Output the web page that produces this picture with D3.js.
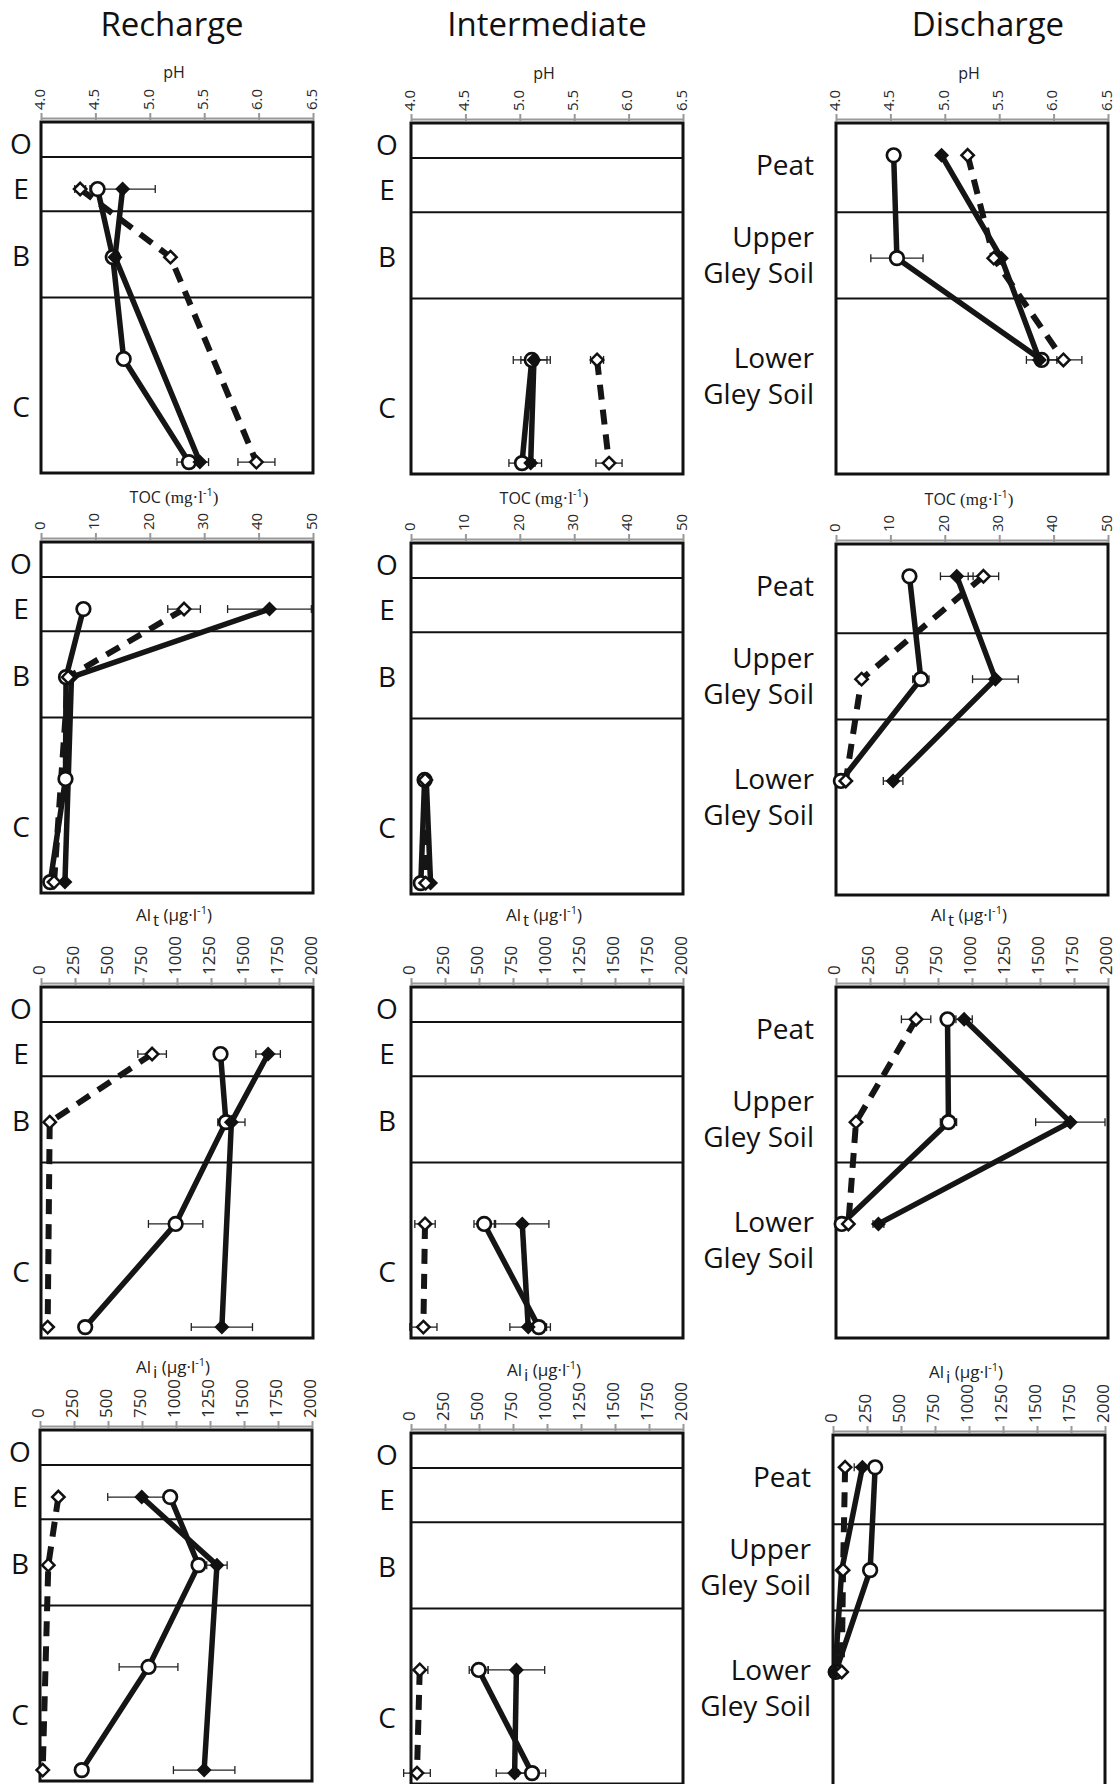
<!DOCTYPE html>
<html><head><meta charset="utf-8">
<script src="https://cdn.jsdelivr.net/npm/d3@7/dist/d3.min.js"></script>
<style>body{margin:0;background:#fff;} svg{display:block;font-family:"Open Sans",sans-serif;}</style>
</head><body><svg id="chart" width="1117" height="1784"></svg>
<script>
// ---------- categories ----------
const columns = ["Recharge", "Intermediate", "Discharge"];
const mineralHorizons = ["O", "E", "B", "C"];
const peatHorizons = [["Peat"], ["Upper", "Gley Soil"], ["Lower", "Gley Soil"]];
// sampling depth (percent of profile) for E, B, upper C, lower C
const mineralSampleDepth = [19.1, 38.5, 67.5, 96.9];
const mineralBoundaries = [10, 25.4, 50];
const mineralLabelDepth = [6.3, 19.1, 38.2, 81.2];
// sampling depth for Peat, Upper gley, Lower gley
const peatSampleDepth = [9.2, 38.5, 67.5];
const peatBoundaries = [25.4, 50];
const peatLabelDepth = [12, 37.7, 72.2];

// ---------- tick labels ----------
const pHTicks = [4.0, 4.5, 5.0, 5.5, 6.0, 6.5];
const tocTicks = [0, 10, 20, 30, 40, 50];
const alTicks = [0, 250, 500, 750, 1000, 1250, 1500, 1750, 2000];

// ---------- pH ----------
const pHRechCircle = [4.52, 4.66, 4.76, 5.36];
const pHRechCircleErr = [0, 0, 0, 0.11];
const pHRechFilled = [4.75, 4.68, null, 5.46];
const pHRechFilledErr = [0.30, 0, 0, 0.08];
const pHRechOpen = [4.36, 5.19, null, 5.98];
const pHRechOpenErr = [0.05, 0, 0, 0.17];

const pHInterCircle = [null, null, 5.11, 5.02];
const pHInterCircleErr = [0, 0, 0.17, 0.12];
const pHInterFilled = [null, null, 5.13, 5.10];
const pHInterFilledErr = [0, 0, 0.12, 0.10];
const pHInterOpen = [null, null, 5.71, 5.82];
const pHInterOpenErr = [0, 0, 0.06, 0.12];

const pHDisCircle = [4.53, 4.56, 5.89];
const pHDisCircleErr = [0, 0.24, 0.14];
const pHDisFilled = [4.97, 5.52, 5.87];
const pHDisFilledErr = [0, 0, 0];
const pHDisOpen = [5.21, 5.45, 6.09];
const pHDisOpenErr = [0, 0, 0.17];

// ---------- TOC (mg/l) ----------
const tocRechCircle = [7.8, 4.6, 4.5, 1.7];
const tocRechCircleErr = [0, 0, 0, 0];
const tocRechFilled = [42.0, 5.6, null, 4.4];
const tocRechFilledErr = [7.7, 0, 0, 0];
const tocRechOpen = [26.3, 5.0, null, 2.4];
const tocRechOpenErr = [3.0, 0, 0, 0];

const tocInterCircle = [null, null, 2.5, 1.8];
const tocInterCircleErr = [0, 0, 0, 0];
const tocInterFilled = [null, null, 2.8, 3.6];
const tocInterFilledErr = [0, 0, 0, 0];
const tocInterOpen = [null, null, 2.6, 2.7];
const tocInterOpenErr = [0, 0, 0, 0];

const tocDisCircle = [13.5, 15.6, 0.9];
const tocDisCircleErr = [0, 1.5, 0];
const tocDisFilled = [22.2, 29.3, 10.5];
const tocDisFilledErr = [3.0, 4.2, 1.8];
const tocDisOpen = [27.1, 4.7, 1.8];
const tocDisOpenErr = [2.8, 0, 0];

// ---------- Al total (ug/l) ----------
const altRechCircle = [1320, 1360, 990, 325];
const altRechCircleErr = [0, 0, 200, 0];
const altRechFilled = [1670, 1400, null, 1330];
const altRechFilledErr = [90, 100, 0, 225];
const altRechOpen = [817, 64, null, 49];
const altRechOpenErr = [105, 0, 0, 0];

const altInterCircle = [null, null, 538, 940];
const altInterCircleErr = [0, 0, 75, 85];
const altInterFilled = [null, null, 818, 862];
const altInterFilledErr = [0, 0, 196, 135];
const altInterOpen = [null, null, 103, 91];
const altInterOpenErr = [0, 0, 75, 100];

const altDisCircle = [820, 827, 42];
const altDisCircleErr = [0, 60, 0];
const altDisFilled = [942, 1723, 312];
const altDisFilledErr = [60, 255, 40];
const altDisOpen = [589, 147, 91];
const altDisOpenErr = [108, 0, 0];

// ---------- Al inorganic (ug/l) ----------
const aliRechCircle = [957, 1166, 798, 307];
const aliRechCircleErr = [0, 0, 216, 0];
const aliRechFilled = [748, 1301, null, 1207];
const aliRechFilledErr = [250, 75, 0, 226];
const aliRechOpen = [135, 61, null, 20];
const aliRechOpenErr = [0, 0, 0, 0];

const aliInterCircle = [null, null, 498, 890];
const aliInterCircleErr = [0, 0, 70, 100];
const aliInterFilled = [null, null, 775, 762];
const aliInterFilledErr = [0, 0, 208, 135];
const aliInterOpen = [null, null, 64, 44];
const aliInterOpenErr = [0, 0, 60, 98];

const aliDisCircle = [310, 273, 20];
const aliDisCircleErr = [0, 0, 0];
const aliDisFilled = [216, 64, 15];
const aliDisFilledErr = [60, 0, 0];
const aliDisOpen = [89, 74, 64];
const aliDisOpenErr = [0, 0, 0];

// ---------- layout ----------
const boxW = 272, boxH = 351;
const rowTops = [[122, 123, 123], [542, 543, 544], [987, 987, 987], [1430, 1433, 1435]];
const rowLefts = [[41, 411, 836], [41, 411, 836], [41, 411, 836], [40, 411, 833]];
const titleX = [172, 547, 988];

const variables = [
  {key: "pH", domain: [4, 6.5], ticks: pHTicks, fmt: d3.format(".1f"), tickFont: 15, titleDy: -44,
   sets: [[pHRechCircle, pHRechCircleErr, pHRechFilled, pHRechFilledErr, pHRechOpen, pHRechOpenErr],
          [pHInterCircle, pHInterCircleErr, pHInterFilled, pHInterFilledErr, pHInterOpen, pHInterOpenErr],
          [pHDisCircle, pHDisCircleErr, pHDisFilled, pHDisFilledErr, pHDisOpen, pHDisOpenErr]]},
  {key: "TOC", domain: [0, 50], ticks: tocTicks, fmt: d3.format("d"), tickFont: 15, titleDy: -39,
   sets: [[tocRechCircle, tocRechCircleErr, tocRechFilled, tocRechFilledErr, tocRechOpen, tocRechOpenErr],
          [tocInterCircle, tocInterCircleErr, tocInterFilled, tocInterFilledErr, tocInterOpen, tocInterOpenErr],
          [tocDisCircle, tocDisCircleErr, tocDisFilled, tocDisFilledErr, tocDisOpen, tocDisOpenErr]]},
  {key: "Alt", domain: [0, 2000], ticks: alTicks, fmt: d3.format("d"), tickFont: 17, titleDy: -66,
   sets: [[altRechCircle, altRechCircleErr, altRechFilled, altRechFilledErr, altRechOpen, altRechOpenErr],
          [altInterCircle, altInterCircleErr, altInterFilled, altInterFilledErr, altInterOpen, altInterOpenErr],
          [altDisCircle, altDisCircleErr, altDisFilled, altDisFilledErr, altDisOpen, altDisOpenErr]]},
  {key: "Ali", domain: [0, 2000], ticks: alTicks, fmt: d3.format("d"), tickFont: 17, titleDy: -57,
   sets: [[aliRechCircle, aliRechCircleErr, aliRechFilled, aliRechFilledErr, aliRechOpen, aliRechOpenErr],
          [aliInterCircle, aliInterCircleErr, aliInterFilled, aliInterFilledErr, aliInterOpen, aliInterOpenErr],
          [aliDisCircle, aliDisCircleErr, aliDisFilled, aliDisFilledErr, aliDisOpen, aliDisOpenErr]]}
];

const svg = d3.select("#chart");

// column titles
columns.forEach((c, i) => {
  svg.append("text").attr("x", titleX[i]).attr("y", 36).attr("text-anchor", "middle")
    .attr("font-size", 33).attr("fill", "#111").text(c);
});

function axisTitle(g, key, cx, y) {
  const t = g.append("text").attr("x", cx).attr("y", y).attr("text-anchor", "middle")
    .attr("font-size", 16).attr("fill", "#222");
  if (key === "pH") { t.text("pH"); return; }
  if (key === "TOC") {
    t.append("tspan").text("TOC ");
    t.append("tspan").attr("font-family", "Liberation Serif, serif").attr("font-size", 17).text("(mg·l");
    t.append("tspan").attr("font-size", 11).attr("dy", -7).text("-1");
    t.append("tspan").attr("font-family", "Liberation Serif, serif").attr("font-size", 17).attr("dy", 7).text(")");
    return;
  }
  const sub = key === "Alt" ? "t" : "i";
  t.attr("font-size", 17);
  t.append("tspan").text("Al");
  t.append("tspan").attr("dx", 2).attr("dy", 5).text(sub);
  t.append("tspan").attr("dy", -5).text(" (µg·l");
  t.append("tspan").attr("font-size", 11).attr("dy", -7).text("-1");
  t.append("tspan").attr("dy", 7).text(")");
}

const diamond = s => `M0,${-s}L${s},0L0,${s}L${-s},0Z`;

variables.forEach((v, r) => {
  columns.forEach((col, c) => {
    const left = rowLefts[r][c], top = rowTops[r][c];
    const g = svg.append("g").attr("transform", `translate(${left},${top})`);
    const x = d3.scaleLinear().domain(v.domain).range([0, boxW]);
    const y = d3.scaleLinear().domain([0, 100]).range([0, boxH]);
    const isPeat = c === 2;
    const depths = isPeat ? peatSampleDepth : mineralSampleDepth;
    const bounds = isPeat ? peatBoundaries : mineralBoundaries;

    // top axis
    const ax = g.append("g").attr("transform", "translate(0,-4)")
      .call(d3.axisTop(x).tickValues(v.ticks).tickFormat(v.fmt).tickSize(5).tickSizeOuter(0));
    ax.select(".domain").attr("stroke", "#999").attr("stroke-width", 2);
    ax.selectAll(".tick line").attr("stroke", "#999").attr("stroke-width", 2).attr("y1", 2);
    ax.selectAll(".tick text")
      .attr("transform", "rotate(-90)")
      .attr("x", 8).attr("y", 0).attr("dy", "0.22em")
      .attr("text-anchor", "start")
      .attr("font-family", "Open Sans, sans-serif")
      .attr("font-size", v.tickFont).attr("fill", "#2a2a2a");

    axisTitle(g, v.key, boxW / 2 - 3, v.titleDy);

    // horizon boundaries
    g.selectAll("line.hz").data(bounds).join("line").attr("class", "hz")
      .attr("x1", 0).attr("x2", boxW).attr("y1", d => y(d)).attr("y2", d => y(d))
      .attr("stroke", "#111").attr("stroke-width", 2);
    // box
    g.append("rect").attr("width", boxW).attr("height", boxH)
      .attr("fill", "none").attr("stroke", "#111").attr("stroke-width", 3);

    // horizon labels
    if (!isPeat) {
      mineralHorizons.forEach((h, i) => {
        g.append("text").attr("x", c === 0 ? -20 : -24).attr("y", y(mineralLabelDepth[i]) + 10)
          .attr("text-anchor", "middle").attr("font-size", 28).attr("fill", "#111").text(h);
      });
    } else {
      peatHorizons.forEach((lines, i) => {
        const cy = y(peatLabelDepth[i]);
        const n = lines.length;
        lines.forEach((ln, j) => {
          g.append("text").attr("x", -22).attr("y", cy + (j - (n - 1) / 2) * 36 + 10)
            .attr("text-anchor", "end").attr("font-size", 28).attr("fill", "#111").text(ln);
        });
      });
    }

    const set = v.sets[c];
    const series = [
      {vals: set[0], errs: set[1], type: "circle", dash: null},
      {vals: set[2], errs: set[3], type: "filled", dash: null},
      {vals: set[4], errs: set[5], type: "open", dash: "15,10"}
    ].map(s => ({...s, pts: s.vals.map((val, i) => ({val, err: s.errs[i], d: depths[i]})).filter(p => p.val !== null)}));

    const line = d3.line().x(p => x(p.val)).y(p => y(p.d));
    series.forEach(s => {
      g.append("path").attr("d", line(s.pts)).attr("fill", "none")
        .attr("stroke", "#151515").attr("stroke-width", s.dash ? 6 : 5.5)
        .attr("stroke-dasharray", s.dash).attr("stroke-linejoin", "round");
    });
    // error bars
    series.forEach(s => {
      s.pts.filter(p => p.err > 0).forEach(p => {
        const yy = y(p.d), x0 = x(p.val - p.err), x1 = x(p.val + p.err);
        const eg = g.append("g").attr("stroke", "#222").attr("stroke-width", 1.3);
        eg.append("line").attr("x1", x0).attr("x2", x1).attr("y1", yy).attr("y2", yy);
        eg.append("line").attr("x1", x0).attr("x2", x0).attr("y1", yy - 4).attr("y2", yy + 4);
        eg.append("line").attr("x1", x1).attr("x2", x1).attr("y1", yy - 4).attr("y2", yy + 4);
      });
    });
    // markers
    series.forEach(s => {
      s.pts.forEach(p => {
        const px = x(p.val), py = y(p.d);
        if (s.type === "circle") {
          g.append("circle").attr("cx", px).attr("cy", py).attr("r", 6.8)
            .attr("fill", "#fff").attr("stroke", "#111").attr("stroke-width", 2.7);
        } else if (s.type === "filled") {
          g.append("path").attr("d", diamond(7.5)).attr("transform", `translate(${px},${py})`)
            .attr("fill", "#111");
        } else {
          g.append("path").attr("d", diamond(6.2)).attr("transform", `translate(${px},${py})`)
            .attr("fill", "#fff").attr("stroke", "#111").attr("stroke-width", 2.5);
        }
      });
    });
  });
});
</script></body></html>
